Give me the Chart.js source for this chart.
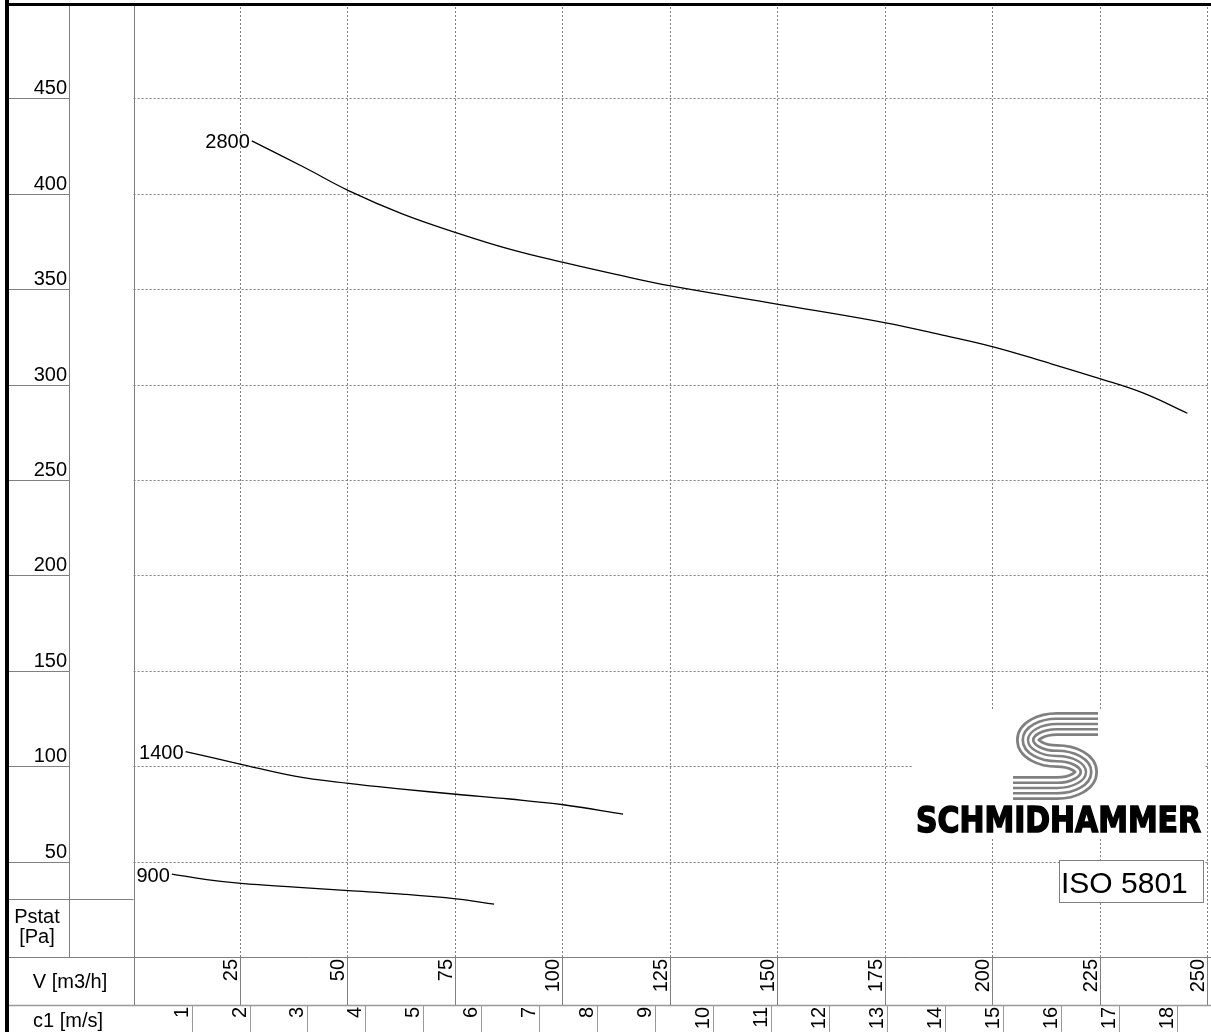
<!DOCTYPE html>
<html>
<head>
<meta charset="utf-8">
<script src="https://cdn.jsdelivr.net/npm/chart.js@4.4.1/dist/chart.umd.min.js"></script>
<style>
  html, body { margin: 0; padding: 0; background: #fff; }
  canvas { display: block; }
</style>
</head>
<body>
<canvas id="fanChart" width="1211" height="1032"></canvas>
<script>
// tick labels
const vTicks = [25, 50, 75, 100, 125, 150, 175, 200, 225, 250];
const pTicks = [50, 100, 150, 200, 250, 300, 350, 400, 450];
const c1Ticks = [1, 2, 3, 4, 5, 6, 7, 8, 9, 10, 11, 12, 13, 14, 15, 16, 17, 18];
const c1Max = 18.54; // c1 at V = 250 m3/h

// curves: speed, volume flow V [m3/h], static pressure [Pa]
const speeds = ['2800', '1400', '900'];
const v2800 = [27.5, 40, 50, 62.5, 75, 87.5, 100, 112.5, 125, 150, 175, 187.5, 200, 212.5, 225, 235, 245.2];
const p2800 = [427.7, 413.5, 401.7, 389.5, 379.7, 371, 364, 357.6, 351.7, 342.1, 332.4, 326.3, 319.8, 311.6, 303, 295.5, 285];
const v1400 = [12.1, 25, 37.5, 50, 62.5, 75, 87.5, 100, 113.9];
const p1400 = [107.7, 101, 94.8, 91, 88, 85.3, 82.8, 79.8, 74.9];
const v900 = [8.9, 17, 25, 37.5, 50, 62.5, 75, 83.9];
const p900 = [43.4, 40.6, 38.6, 36.6, 34.8, 33.0, 30.5, 27.7];

const toPoints = (xs, ys) => xs.map((x, i) => ({ x: x, y: ys[i] }));
const curves = [toPoints(v2800, p2800), toPoints(v1400, p1400), toPoints(v900, p900)];

const FONT = '"Liberation Sans", Arial, sans-serif';
const GRID = '#808080';
const crisp = v => Math.round(v) + 0.5;

function line(ctx, x1, y1, x2, y2) {
    ctx.beginPath();
    ctx.moveTo(x1, y1);
    ctx.lineTo(x2, y2);
    ctx.stroke();
}

function vText(ctx, text, x, y) {
    ctx.save();
    ctx.translate(x, y);
    ctx.rotate(-Math.PI / 2);
    ctx.textAlign = 'right';
    ctx.textBaseline = 'alphabetic';
    ctx.fillText(text, 0, 0);
    ctx.restore();
}

const framePlugin = {
    id: 'frame',
    beforeDatasetsDraw(chart) {
        const ctx = chart.ctx;
        const { x, y, c1 } = chart.scales;
        const area = chart.chartArea;
        const W = chart.width, H = chart.height;
        const rowV = area.bottom, rowC = area.bottom + 48;
        ctx.save();
        ctx.lineWidth = 1;

        // dotted grid
        ctx.strokeStyle = GRID;
        ctx.setLineDash([2, 2]);
        pTicks.forEach(p => {
            const py = crisp(y.getPixelForValue(p));
            line(ctx, area.left, py, area.right, py);
        });
        vTicks.forEach(v => {
            const px = crisp(x.getPixelForValue(v)) - 1;
            line(ctx, px, area.top, px, rowV);
        });
        ctx.setLineDash([]);

        // table lines
        ctx.strokeStyle = GRID;
        line(ctx, crisp(area.left), area.top, crisp(area.left), rowC);
        line(ctx, 69.5, area.top, 69.5, rowV);
        pTicks.forEach(p => {
            const py = crisp(y.getPixelForValue(p));
            line(ctx, 9, py, 69.5, py);
        });
        line(ctx, 9, 899.5, area.left, 899.5);
        line(ctx, 9, crisp(rowV), W, crisp(rowV));
        ctx.lineWidth = 1.5;
        ctx.strokeStyle = '#999';
        line(ctx, 9, rowC + 0.5, W, rowC + 0.5);
        ctx.lineWidth = 1;
        ctx.strokeStyle = GRID;
        vTicks.forEach(v => {
            const px = crisp(x.getPixelForValue(v)) - 1;
            line(ctx, px, rowV, px, rowC);
        });
        ctx.strokeStyle = '#999';
        c1Ticks.forEach(c => {
            const px = crisp(c1.getPixelForValue(c));
            line(ctx, px, rowC, px, H);
        });

        // thick outer border
        ctx.fillStyle = '#000';
        ctx.fillRect(5, 0, 4, H);
        ctx.fillRect(5, 3, W - 5, 3);

        // texts
        ctx.fillStyle = '#000';
        ctx.font = '20px ' + FONT;
        ctx.textAlign = 'right';
        ctx.textBaseline = 'alphabetic';
        pTicks.forEach(p => {
            ctx.fillText(String(p), 67, y.getPixelForValue(p) - 4);
        });
        vTicks.forEach(v => vText(ctx, String(v), x.getPixelForValue(v) - 4, rowV + 2));
        c1Ticks.forEach(c => vText(ctx, String(c), c1.getPixelForValue(c) - 4, rowC + 2));

        ctx.textAlign = 'center';
        ctx.fillText('Pstat', 37, 923);
        ctx.fillText('[Pa]', 37, 943);
        ctx.textBaseline = 'middle';
        ctx.fillText('V [m3/h]', 70, rowV + 25);
        ctx.fillText('c1 [m/s]', 68, rowC + 16);

        drawLogo(ctx);
        ctx.restore();
    },
    afterDatasetsDraw(chart) {
        const ctx = chart.ctx;
        ctx.save();
        ctx.fillStyle = '#000';
        ctx.font = '20px ' + FONT;
        ctx.textAlign = 'right';
        ctx.textBaseline = 'middle';
        chart.data.datasets.forEach((ds, i) => {
            const pt = chart.getDatasetMeta(i).data[0];
            ctx.fillText(ds.label, pt.x - 2, pt.y + 2);
        });
        ctx.restore();
    }
};

function drawLogo(ctx) {
    ctx.save();
    ctx.fillStyle = '#fff';
    ctx.fillRect(913, 709, 291, 130);

    // striped S emblem
    const sPath = () => {
        ctx.beginPath();
        ctx.moveTo(1098, 724);
        ctx.lineTo(1057, 724);
        ctx.ellipse(1057, 740, 29, 16, 0, -Math.PI / 2, Math.PI / 2, true);
        ctx.ellipse(1057, 772, 29, 16, 0, -Math.PI / 2, Math.PI / 2, false);
        ctx.lineTo(1013, 788);
    };
    ctx.lineJoin = 'round';
    [[24, '#808080'], [18.6, '#fff'], [13.2, '#808080'], [7.8, '#fff'], [2.4, '#808080']].forEach(([w, c]) => {
        sPath();
        ctx.lineWidth = w;
        ctx.strokeStyle = c;
        ctx.stroke();
    });

    // word mark
    ctx.fillStyle = '#000';
    ctx.strokeStyle = '#000';
    ctx.lineWidth = 1.6;
    ctx.lineJoin = 'miter';
    ctx.font = 'bold 35px "DejaVu Sans", sans-serif';
    ctx.textAlign = 'left';
    ctx.textBaseline = 'alphabetic';
    const tw = ctx.measureText('SCHMIDHAMMER').width;
    ctx.save();
    ctx.translate(916, 832);
    ctx.scale(285 / tw, 1);
    ctx.fillText('SCHMIDHAMMER', 0, 0);
    ctx.strokeText('SCHMIDHAMMER', 0, 0);
    ctx.restore();

    // ISO box
    ctx.fillStyle = '#fff';
    ctx.fillRect(1059, 860, 144, 42);
    ctx.strokeStyle = GRID;
    ctx.lineWidth = 1;
    ctx.strokeRect(1059.5, 860.5, 144, 42);
    ctx.fillStyle = '#000';
    ctx.font = '30px ' + FONT;
    ctx.fillText('ISO 5801', 1061, 893);
    ctx.restore();
}

new Chart(document.getElementById('fanChart'), {
    type: 'line',
    data: {
        datasets: curves.map((pts, i) => ({
            label: speeds[i],
            data: pts,
            borderColor: '#000',
            borderWidth: 1.3,
            pointRadius: 0,
            fill: false,
            tension: 0.4
        }))
    },
    options: {
        responsive: false,
        animation: false,
        events: [],
        layout: { padding: { left: 133.6, right: 3, top: 3, bottom: 75 } },
        plugins: { legend: { display: false }, tooltip: { enabled: false } },
        scales: {
            x: { type: 'linear', min: 0, max: 250, display: false },
            y: { type: 'linear', min: 0, max: 500, display: false },
            c1: { type: 'linear', axis: 'x', position: 'bottom', min: 0, max: c1Max, display: false }
        }
    },
    plugins: [framePlugin]
});
</script>
</body>
</html>
